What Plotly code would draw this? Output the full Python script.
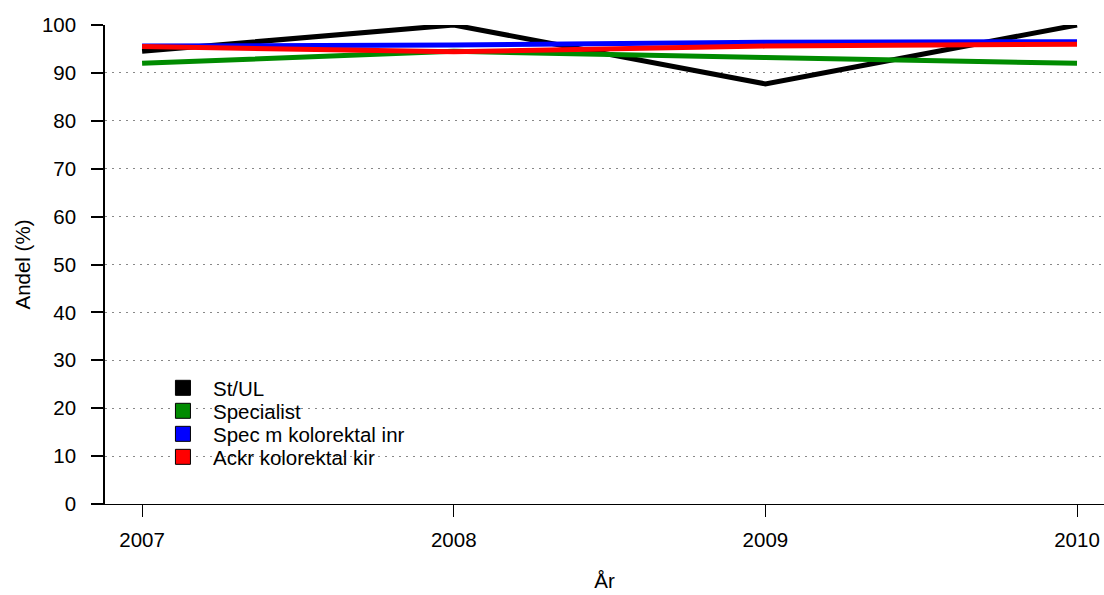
import plotly.graph_objects as go

years = [2007, 2008, 2009, 2010]
series_names = ["St/UL", "Specialist", "Spec m kolorektal inr", "Ackr kolorektal kir"]
st_ul = [94.5, 100.0, 87.7, 100.0]
specialist = [92.0, 94.5, 93.2, 92.0]
spec_kolorektal_inr = [95.6, 95.8, 96.4, 96.5]
ackr_kolorektal_kir = [95.5, 94.4, 95.6, 96.0]
colors = ["#000000", "#008B00", "#0000FF", "#FF0000"]
y_ticks = [0, 10, 20, 30, 40, 50, 60, 70, 80, 90, 100]
grid_ticks = [10, 20, 30, 40, 50, 60, 70, 80, 90]

FONT = "Liberation Sans, Arial, sans-serif"
TICK_SIZE = 20.5
LEGEND_SIZE = 20.5

fig = go.Figure()

# Dotted reference lines on a hidden overlay axis
fig.add_trace(go.Scatter(x=[None], y=[None], yaxis="y2", showlegend=False, hoverinfo="skip"))

for name, vals, col in zip(series_names,
                           [st_ul, specialist, spec_kolorektal_inr, ackr_kolorektal_kir],
                           colors):
    fig.add_trace(go.Scatter(x=years, y=vals, mode="lines", name=name,
                             line=dict(color=col, width=5), showlegend=False,
                             cliponaxis=False))

# One small legend per series so the rows sit at a fixed spacing
legend_rows = [0.2422, 0.1942, 0.1461, 0.0981]
legend_layout = {}
for i, (name, col, ly) in enumerate(zip(series_names, colors, legend_rows)):
    key = "legend" if i == 0 else f"legend{i + 1}"
    fig.add_trace(go.Scatter(x=[None], y=[None], mode="markers", name=name,
                             legend=key,
                             marker=dict(symbol="square", size=15, color=col,
                                         line=dict(color="black", width=1))))
    legend_layout[key] = dict(x=0.048, y=ly, xanchor="left", yanchor="middle",
                              bgcolor="rgba(0,0,0,0)", font=dict(size=LEGEND_SIZE),
                              itemwidth=50, borderwidth=0)

fig.update_layout(
    width=1104, height=595,
    margin=dict(l=105, r=0, t=25, b=91),
    paper_bgcolor="white", plot_bgcolor="white",
    font=dict(family=FONT, size=TICK_SIZE, color="black"),
    showlegend=True,
    xaxis=dict(range=[2006.881, 2010.0866], tickvals=years, ticktext=[str(y) for y in years],
               showgrid=False, zeroline=False, showline=True, linecolor="black", linewidth=1,
               ticks="outside", ticklen=12, tickcolor="black", ticklabelstandoff=5,
               tickfont=dict(size=TICK_SIZE),
               title=dict(text="År", standoff=24, font=dict(size=TICK_SIZE))),
    yaxis=dict(range=[0, 100], tickvals=y_ticks, showgrid=False, zeroline=False,
               showline=True, linecolor="black", linewidth=1.5,
               ticks="outside", ticklen=12, tickcolor="black", tickwidth=1.5,
               ticklabelstandoff=11, tickfont=dict(size=TICK_SIZE),
               title=dict(text="Andel (%)", standoff=6, font=dict(size=TICK_SIZE))),
    yaxis2=dict(range=[0, 100], overlaying="y", tickvals=grid_ticks, showticklabels=False,
                showgrid=True, gridcolor="#888888", gridwidth=1, griddash="2px,5px",
                zeroline=False, showline=False),
    **legend_layout,
)

fig.write_html("out.html")
